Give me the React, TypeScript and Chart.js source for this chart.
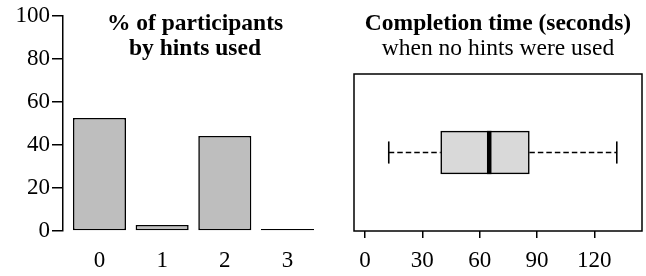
import React, { useEffect, useRef } from "react";
import { Chart, registerables } from "chart.js";

Chart.register(...registerables);

// ---- Data ----
const hintCategories = [0, 1, 2, 3];
const hintPercents = [52.6, 2.8, 44.2, 0];
const yTickValues = [0, 20, 40, 60, 80, 100];

const timeTickValues = [0, 30, 60, 90, 120];
const whiskerLow = 12.4;
const quartile1 = 39.6;
const medianTime = 65;
const quartile3 = 86;
const whiskerHigh = 131.8;

const leftTitle = ["% of participants", "by hints used"];
const rightTitle = ["Completion time (seconds)", "when no hints were used"];

const FONT = "'Liberation Serif', Tinos, 'Times New Roman', Times, 'DejaVu Serif', serif";

const frameBox = {
  id: "frameBox",
  afterDatasetsDraw(chart: any) {
    const { ctx, chartArea } = chart;
    ctx.save();
    ctx.strokeStyle = "#000";
    ctx.lineWidth = 1.5;
    ctx.strokeRect(chartArea.left, chartArea.top, chartArea.right - chartArea.left, chartArea.bottom - chartArea.top);
    ctx.restore();
  },
};

export default function App() {
  const leftRef = useRef<HTMLCanvasElement>(null);
  const rightRef = useRef<HTMLCanvasElement>(null);

  useEffect(() => {
    const left = new Chart(leftRef.current as HTMLCanvasElement, {
      type: "bar",
      data: {
        datasets: [
          {
            data: hintCategories.map((c, i) => ({ x: c, y: hintPercents[i] })),
            backgroundColor: "#BEBEBE",
            borderColor: "#000",
            borderWidth: 1.6,
            borderSkipped: false,
            barPercentage: 0.847,
            categoryPercentage: 1,
            minBarLength: 2,
          } as any,
        ],
      },
      options: {
        animation: false,
        responsive: false,
        layout: { padding: { top: 16, left: 0, right: 8, bottom: 0 } },
        plugins: { legend: { display: false }, tooltip: { enabled: false }, title: { display: false } },
        scales: {
          x: {
            type: "linear",
            offset: false,
            min: -0.582,
            max: 3.551,
            afterBuildTicks: (s: any) => {
              s.ticks = hintCategories.map((v) => ({ value: v }));
            },
            afterFit: (s: any) => {
              s.height = 45;
            },
            border: { display: false },
            grid: { display: false, drawTicks: false, offset: false },
            ticks: {
              color: "#000",
              font: { family: FONT, size: 23 },
              padding: 16,
              maxRotation: 0,
              autoSkip: false,
              callback: (v: any) => String(v),
            },
          },
          y: {
            min: 0,
            max: 100,
            afterBuildTicks: (s: any) => {
              s.ticks = yTickValues.map((v) => ({ value: v }));
            },
            afterFit: (s: any) => {
              s.width = 63;
            },
            border: { display: true, color: "#000", width: 1.5 },
            grid: { drawOnChartArea: false, drawTicks: true, tickLength: 11, color: "#000", lineWidth: 1.5 },
            ticks: {
              color: "#000",
              font: { family: FONT, size: 23 },
              padding: 2,
              autoSkip: false,
            },
          },
        },
      },
    });

    const halfBox = 0.2756;
    const halfCap = 0.141;
    const lineBase = { pointRadius: 0, fill: false, borderColor: "#000", order: 0 };
    const right = new Chart(rightRef.current as HTMLCanvasElement, {
      type: "bar",
      data: {
        datasets: [
          {
            type: "bar",
            indexAxis: "y",
            order: 10,
            data: [{ x: [quartile1, quartile3], y: 0 }],
            backgroundColor: "#D9D9D9",
            borderColor: "#000",
            borderWidth: 1.6,
            borderSkipped: false,
            barThickness: 43,
          } as any,
          {
            ...lineBase,
            type: "line",
            data: [
              { x: whiskerLow, y: 0 },
              { x: quartile1, y: 0 },
            ],
            borderWidth: 1.5,
            borderDash: [5.5, 3],
          } as any,
          {
            ...lineBase,
            type: "line",
            data: [
              { x: quartile3, y: 0 },
              { x: whiskerHigh, y: 0 },
            ],
            borderWidth: 1.5,
            borderDash: [5.5, 3],
          } as any,
          {
            ...lineBase,
            type: "line",
            data: [
              { x: whiskerLow, y: -halfCap },
              { x: whiskerLow, y: halfCap },
            ],
            borderWidth: 1.6,
          } as any,
          {
            ...lineBase,
            type: "line",
            data: [
              { x: whiskerHigh, y: -halfCap },
              { x: whiskerHigh, y: halfCap },
            ],
            borderWidth: 1.6,
          } as any,
          {
            ...lineBase,
            type: "line",
            data: [
              { x: medianTime, y: -halfBox },
              { x: medianTime, y: halfBox },
            ],
            borderWidth: 4.5,
            borderCapStyle: "butt",
          } as any,
        ],
      },
      options: {
        animation: false,
        responsive: false,
        layout: { padding: { top: 74, left: 24, right: 4, bottom: 0 } },
        plugins: { legend: { display: false }, tooltip: { enabled: false }, title: { display: false } },
        scales: {
          x: {
            type: "linear",
            offset: false,
            min: -5.8,
            max: 145,
            afterBuildTicks: (s: any) => {
              s.ticks = timeTickValues.map((v) => ({ value: v }));
            },
            afterFit: (s: any) => {
              s.height = 45;
            },
            border: { display: false },
            grid: { drawOnChartArea: false, drawTicks: true, tickLength: 7, color: "#000", lineWidth: 1.5, offset: false },
            ticks: {
              color: "#000",
              font: { family: FONT, size: 23 },
              padding: 9,
              maxRotation: 0,
              autoSkip: false,
            },
          },
          y: {
            type: "linear",
            offset: false,
            min: -1,
            max: 1,
            display: false,
          },
        },
      },
      plugins: [frameBox],
    });

    return () => {
      left.destroy();
      right.destroy();
    };
  }, []);

  const titleStyle: React.CSSProperties = {
    position: "absolute",
    top: 9.5,
    textAlign: "center",
    fontFamily: FONT,
    fontSize: 23.5,
    lineHeight: "25px",
    whiteSpace: "nowrap",
    color: "#000",
  };

  return (
    <div style={{ position: "absolute", left: 0, top: 0, width: 646, height: 276, background: "#fff", overflow: "hidden" }}>
      <canvas ref={leftRef} width={330} height={276} style={{ position: "absolute", left: 0, top: 0, width: 330, height: 276 }} />
      <canvas ref={rightRef} width={316} height={276} style={{ position: "absolute", left: 330, top: 0, width: 316, height: 276 }} />
      <div style={{ ...titleStyle, left: 95, width: 200, fontWeight: "bold" }}>
        {leftTitle[0]}
        <br />
        {leftTitle[1]}
      </div>
      <div style={{ ...titleStyle, left: 348, width: 300 }}>
        <span style={{ fontWeight: "bold" }}>{rightTitle[0]}</span>
        <br />
        <span>{rightTitle[1]}</span>
      </div>
    </div>
  );
}
